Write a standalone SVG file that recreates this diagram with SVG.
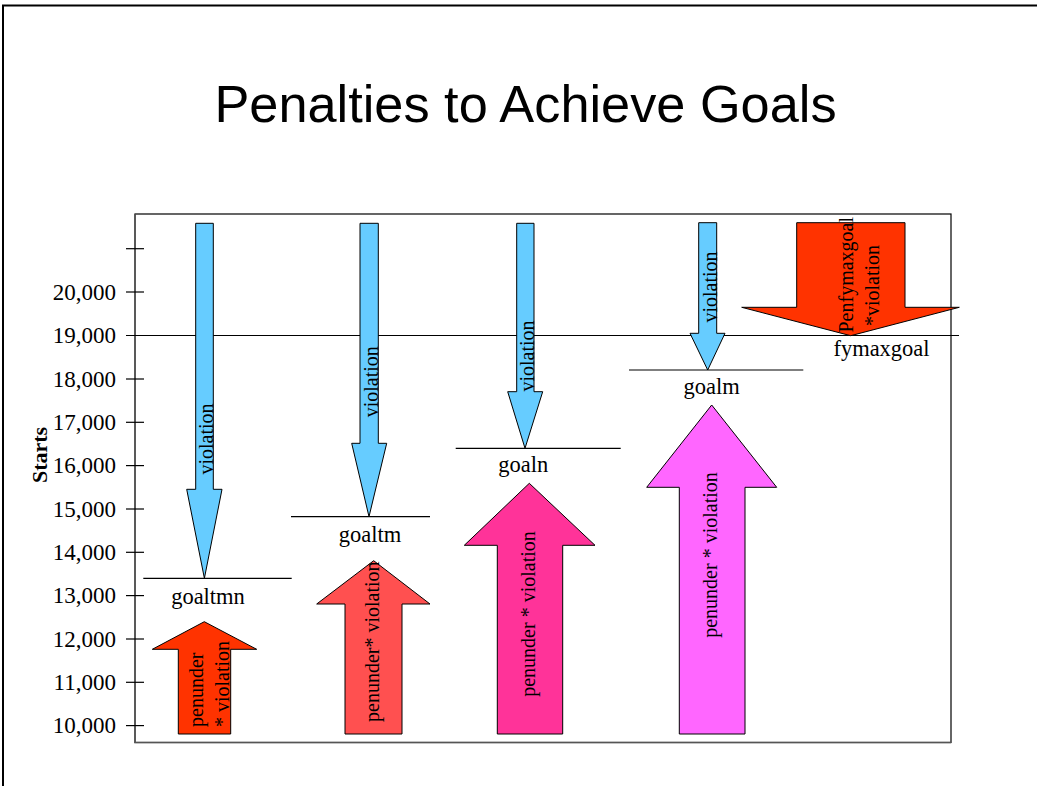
<svg xmlns="http://www.w3.org/2000/svg" width="1037" height="786" viewBox="0 0 1037 786">
<style>
.ser{font-family:"Liberation Serif","Times New Roman",serif;fill:#000}
.lbl{font-size:22.5px}
.ax{font-size:23px;text-anchor:end}
.rot{font-size:20px}
.arr{stroke:#000;stroke-width:1;stroke-linejoin:miter}
.blue{fill:#66CCFF}
.gl{stroke:#000;stroke-width:1.2}
.tick{stroke:#000;stroke-width:1.2}
</style>
<rect x="0" y="0" width="1037" height="786" fill="#fff"/>
<g id="frame">
<path d="M3,786 V5.5 H1037" fill="none" stroke="#000" stroke-width="2"/>
</g>
<g id="title">
<text x="525.5" y="122" font-family="Liberation Sans, Arial, sans-serif" font-size="52.3" text-anchor="middle" fill="#000">Penalties to Achieve Goals</text>
</g>
<g id="plot">
<rect x="135" y="214" width="816" height="528.5" fill="none" stroke="#000" stroke-width="1.2"/>
<path d="M135,214 V742.5 H951" fill="none" stroke="#555" stroke-width="1.5"/>
<g id="ticks">
<line class="tick" x1="126" y1="248.7" x2="144" y2="248.7"/>
<line class="tick" x1="126" y1="292" x2="144" y2="292"/>
<line class="tick" x1="126" y1="379" x2="144" y2="379"/>
<line class="tick" x1="126" y1="422.3" x2="144" y2="422.3"/>
<line class="tick" x1="126" y1="465.6" x2="144" y2="465.6"/>
<line class="tick" x1="126" y1="509" x2="144" y2="509"/>
<line class="tick" x1="126" y1="552.3" x2="144" y2="552.3"/>
<line class="tick" x1="126" y1="595.6" x2="144" y2="595.6"/>
<line class="tick" x1="126" y1="639" x2="144" y2="639"/>
<line class="tick" x1="126" y1="682.3" x2="144" y2="682.3"/>
<line class="tick" x1="126" y1="725.6" x2="144" y2="725.6"/>
</g>
<g id="axis-labels" class="ser ax">
<text x="116" y="299.5">20,000</text>
<text x="116" y="343">19,000</text>
<text x="116" y="386.5">18,000</text>
<text x="116" y="429.8">17,000</text>
<text x="116" y="473">16,000</text>
<text x="116" y="516.5">15,000</text>
<text x="116" y="559.8">14,000</text>
<text x="116" y="603">13,000</text>
<text x="116" y="646.5">12,000</text>
<text x="116" y="689.8">11,000</text>
<text x="116" y="733">10,000</text>
</g>
<text class="ser" x="47" y="455" font-size="22" font-weight="bold" text-anchor="middle" transform="rotate(-90 47 455)">Starts</text>
</g>
<g id="connectors">
<line id="line-19000" class="gl" x1="126" y1="335.5" x2="959" y2="335.5"/>
</g>
<g id="goaltmn">
<line class="gl" x1="143.3" y1="578.3" x2="291.7" y2="578.3"/>
<text class="ser lbl" x="208" y="604.3" text-anchor="middle">goaltmn</text>
</g>
<g id="goaltm">
<line class="gl" x1="291" y1="516.7" x2="430" y2="516.7"/>
<text class="ser lbl" x="370" y="541.7" text-anchor="middle">goaltm</text>
</g>
<g id="goaln">
<line class="gl" x1="455.7" y1="448.3" x2="620.7" y2="448.3"/>
<text class="ser lbl" x="523.3" y="471.7" text-anchor="middle">goaln</text>
</g>
<g id="goalm">
<line class="gl" x1="629" y1="370" x2="803.3" y2="370"/>
<text class="ser lbl" x="711.7" y="394" text-anchor="middle">goalm</text>
</g>
<g id="fymaxgoal">
<text class="ser lbl" x="881.5" y="355.7" text-anchor="middle">fymaxgoal</text>
</g>
<g id="violation-1">
<polygon class="arr blue" points="195.7,223.3 213.3,223.3 213.3,489.3 222,489.3 204.4,578.3 186.7,489.3 195.7,489.3"/>
<text class="ser rot" x="213" y="439" text-anchor="middle" transform="rotate(-90 213 439)">violation</text>
</g>
<g id="violation-2">
<polygon class="arr blue" points="360,223.3 378.3,223.3 378.3,443.3 386.7,443.3 369,516.7 351.7,443.3 360,443.3"/>
<text class="ser rot" x="378" y="381.7" text-anchor="middle" transform="rotate(-90 378 381.7)">violation</text>
</g>
<g id="violation-3">
<polygon class="arr blue" points="516.7,223.3 534,223.3 534,391.7 542.7,391.7 525,448.3 507.7,391.7 516.7,391.7"/>
<text class="ser rot" x="533.5" y="356" text-anchor="middle" transform="rotate(-90 533.5 356)">violation</text>
</g>
<g id="violation-4">
<polygon class="arr blue" points="698.7,222.7 716.7,222.7 716.7,333.3 725,333.3 707.7,370 690,333.3 698.7,333.3"/>
<text class="ser rot" x="716.5" y="287" text-anchor="middle" transform="rotate(-90 716.5 287)">violation</text>
</g>
<g id="penalty-fymaxgoal">
<polygon class="arr" fill="#FF3300" points="796.7,222.7 905,222.7 905,307.3 959.3,307.3 850.7,335.7 741.7,307.3 796.7,307.3"/>
<text class="ser rot" x="853" y="332.5" transform="rotate(-90 853 332.5)">Penfymaxgoal</text>
<text class="ser rot" x="879" y="326" transform="rotate(-90 879 326)">*violation</text>
</g>
<g id="penalty-goaltmn">
<polygon class="arr" fill="#FF3300" points="204.3,621.7 256.7,649.3 230.7,649.3 230.7,734 178.3,734 178.3,649.3 152.3,649.3"/>
<text class="ser rot" x="202.5" y="727" transform="rotate(-90 202.5 727)">penunder</text>
<text class="ser rot" x="229" y="727" transform="rotate(-90 229 727)">* violation</text>
</g>
<g id="penalty-goaltm">
<polygon class="arr" fill="#FF5050" points="373.7,560.7 430,604 402,604 402,734 345,734 345,604 316.7,604"/>
<text class="ser rot" x="379.5" y="641.7" text-anchor="middle" transform="rotate(-90 379.5 641.7)">penunder* violation</text>
</g>
<g id="penalty-goaln">
<polygon class="arr" fill="#FF3399" points="529.3,483.3 595,545.3 562.7,545.3 562.7,734 497.3,734 497.3,545.3 464.3,545.3"/>
<text class="ser rot" x="535" y="614" text-anchor="middle" transform="rotate(-90 535 614)">penunder * violation</text>
</g>
<g id="penalty-goalm">
<polygon class="arr" fill="#FF66FF" points="711.7,405 776.7,487.3 745,487.3 745,734 679.3,734 679.3,487.3 646.7,487.3"/>
<text class="ser rot" x="717" y="555" text-anchor="middle" transform="rotate(-90 717 555)">penunder * violation</text>
</g>
</svg>
